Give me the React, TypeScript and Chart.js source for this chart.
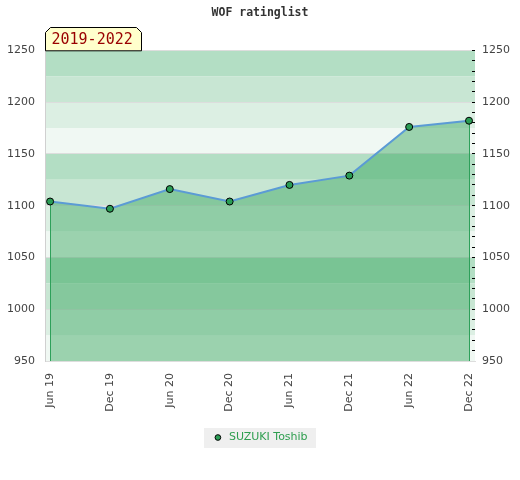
import React, { useEffect, useRef } from 'react';
import { Chart, registerables } from 'chart.js';

Chart.register(...registerables);

const titleText = 'WOF ratinglist';
const periodLabel = '2019-2022';
const seriesName = 'SUZUKI Toshib';
const categories = ['Jun 19', 'Dec 19', 'Jun 20', 'Dec 20', 'Jun 21', 'Dec 21', 'Jun 22', 'Dec 22'];
const ratings = [1104, 1097, 1116, 1104, 1120, 1129, 1176, 1182];
const yMin = 950;
const yMax = 1250;
const yLabelStep = 50;
const yMinorStep = 10;
const bandStep = 25;
const bandColors = ['#b3dec4', '#c8e6d3', '#dcefe3', '#f0f8f3'];

const FONT = 'DejaVu Sans';
const MONO = 'DejaVu Sans Mono';

const decorPlugin = {
  id: 'decor',
  beforeDraw(chart: any) {
    const { ctx, chartArea: a, scales } = chart;
    const y = scales.y;
    ctx.save();
    let k = 0;
    for (let top = yMax; top > yMin; top -= bandStep, k++) {
      const y1 = y.getPixelForValue(top);
      const y2 = y.getPixelForValue(top - bandStep);
      ctx.fillStyle = bandColors[k % bandColors.length];
      ctx.fillRect(a.left, y1, a.right - a.left, y2 - y1);
    }
    const lg = chart.legend;
    if (lg && lg.legendHitBoxes && lg.legendHitBoxes.length) {
      const hb = lg.legendHitBoxes[0];
      const cy = hb.top + hb.height / 2;
      ctx.fillStyle = '#efefef';
      ctx.fillRect(Math.round(hb.left - 8), Math.round(cy - 10), Math.round(hb.width + 17), 20);
    }
    ctx.restore();
  },
  beforeDatasetDraw(chart: any, args: any) {
    const meta = chart.getDatasetMeta(args.index);
    const pts = meta.data;
    if (!pts || !pts.length) return;
    const { ctx, chartArea: a } = chart;
    ctx.save();
    ctx.strokeStyle = '#2ea05a';
    ctx.lineWidth = 1;
    [pts[0], pts[pts.length - 1]].forEach((p: any) => {
      const x = Math.round(p.x) + 0.5;
      ctx.beginPath();
      ctx.moveTo(x, p.y);
      ctx.lineTo(x, a.bottom);
      ctx.stroke();
    });
    ctx.restore();
  },
  afterDraw(chart: any) {
    const { ctx, chartArea: a } = chart;
    const left = a.left + 0.5;
    const right = left + 96;
    const top = 27.5;
    const bottom = a.top + 0.5;
    const bev = 5;
    ctx.save();
    ctx.beginPath();
    ctx.moveTo(left, bottom);
    ctx.lineTo(left, top + bev);
    ctx.lineTo(left + bev, top);
    ctx.lineTo(right - bev, top);
    ctx.lineTo(right, top + bev);
    ctx.lineTo(right, bottom);
    ctx.closePath();
    ctx.fillStyle = '#ffffcc';
    ctx.fill();
    ctx.strokeStyle = '#000';
    ctx.lineWidth = 1;
    ctx.stroke();
    ctx.fillStyle = '#990000';
    ctx.font = `15px "${MONO}"`;
    ctx.textBaseline = 'middle';
    ctx.textAlign = 'left';
    ctx.fillText(periodLabel, left + 6, (top + bottom) / 2 + 1);
    ctx.restore();
  },
};

export default function App() {
  const ref = useRef<HTMLCanvasElement>(null);

  useEffect(() => {
    document.body.style.margin = '0';
    const canvas = ref.current;
    if (!canvas) return;
    const chart = new Chart(canvas, {
      type: 'line',
      data: {
        datasets: [
          {
            label: seriesName,
            data: ratings.map((v, i) => ({ x: i, y: v })),
            borderColor: '#5b9bd5',
            borderWidth: 2,
            backgroundColor: 'rgba(50,165,90,0.45)',
            fill: 'start',
            tension: 0,
            pointRadius: 3.5,
            pointBackgroundColor: '#2a9d55',
            pointBorderColor: '#000',
            pointBorderWidth: 1,
            yAxisID: 'y',
          },
        ],
      },
      options: {
        animation: false,
        responsive: true,
        maintainAspectRatio: false,
        layout: { padding: { left: 0, right: 0, top: 0, bottom: 27 } },
        plugins: {
          tooltip: { enabled: false },
          title: {
            display: true,
            text: titleText,
            color: '#333',
            font: { family: MONO, size: 11.5, weight: 'bold' },
            padding: { top: 6, bottom: 30.5 },
          },
          legend: {
            display: true,
            position: 'bottom',
            labels: {
              usePointStyle: true,
              pointStyle: 'circle',
              boxHeight: 4,
              boxWidth: 11,
              padding: 10,
              color: '#2e9e4f',
              font: { family: FONT, size: 11 },
            },
          },
        },
        scales: {
          x: {
            type: 'linear',
            min: -0.085,
            max: 7.1,
            afterBuildTicks: (s: any) => {
              s.ticks = categories.map((_, i) => ({ value: i }));
            },
            afterFit: (s: any) => {
              s.height = 61;
            },
            grid: { display: false, drawTicks: false },
            border: { display: true, color: '#dddddd' },
            ticks: {
              autoSkip: false,
              minRotation: 90,
              maxRotation: 90,
              padding: 12,
              color: '#444',
              font: { family: FONT, size: 11 },
              callback: (v: any) => categories[v] ?? '',
            },
          },
          y: {
            type: 'linear',
            position: 'left',
            min: yMin,
            max: yMax,
            afterFit: (s: any) => {
              s.width = 45;
            },
            grid: { color: '#dddddd', drawTicks: false },
            border: { display: true, color: '#d0d0d0' },
            ticks: {
              stepSize: yLabelStep,
              padding: 10,
              color: '#444',
              font: { family: FONT, size: 11 },
              callback: (v: any) => String(v),
            },
          },
          y2: {
            type: 'linear',
            position: 'right',
            min: yMin,
            max: yMax,
            afterBuildTicks: (s: any) => {
              const t = [];
              for (let v = yMin; v <= yMax; v += yMinorStep) t.push({ value: v });
              s.ticks = t;
            },
            afterFit: (s: any) => {
              s.width = 45;
            },
            grid: {
              drawOnChartArea: false,
              drawTicks: true,
              tickLength: -3,
              tickColor: '#000',
              tickWidth: 1,
            },
            border: { display: false },
            ticks: {
              autoSkip: false,
              padding: 10,
              color: '#444',
              font: { family: FONT, size: 11 },
              callback: (v: any) => (Number(v) % yLabelStep === 0 ? String(v) : ''),
            },
          },
        },
      },
      plugins: [decorPlugin],
    } as any);
    return () => chart.destroy();
  }, []);

  return (
    <div style={{ width: 520, height: 480, position: 'relative' }}>
      <canvas ref={ref} />
    </div>
  );
}
